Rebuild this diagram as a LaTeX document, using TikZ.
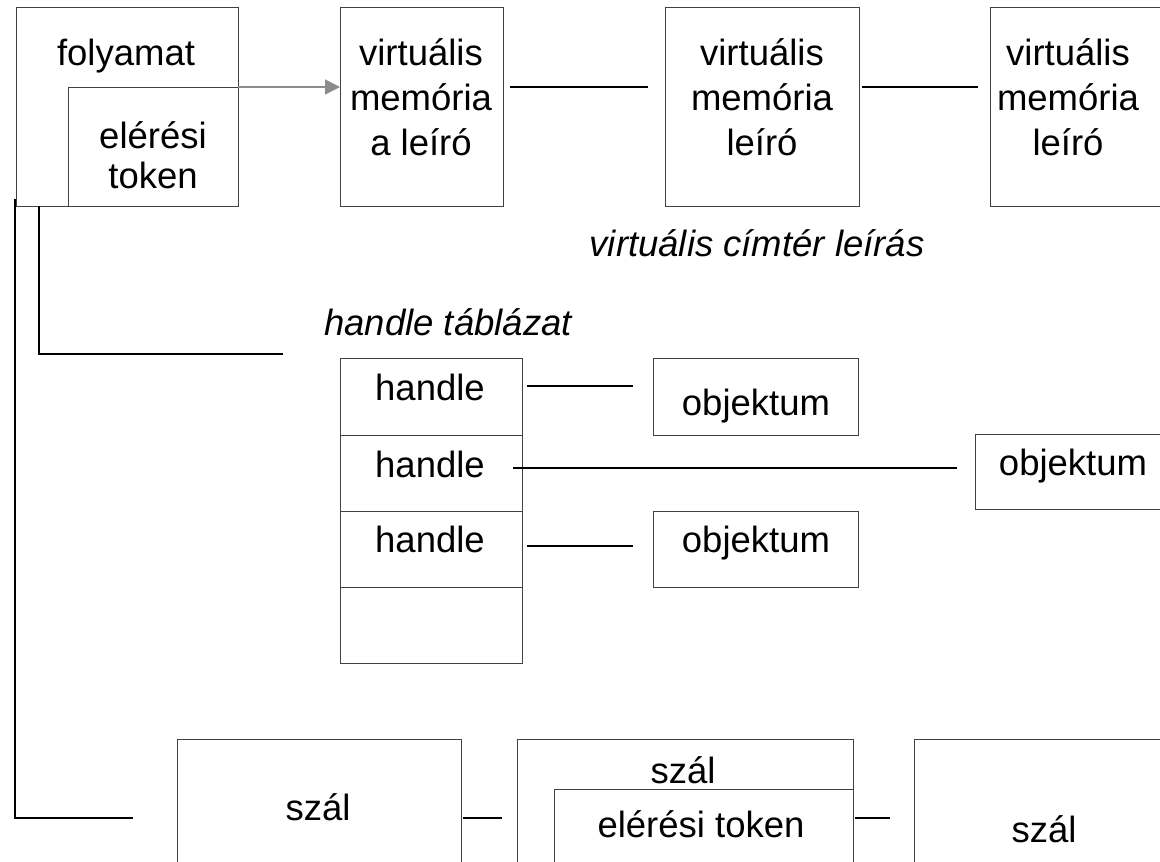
\documentclass[tikz,border=0pt]{standalone}
\usepackage{fontspec}
\setmainfont{Liberation Sans}
\usetikzlibrary{calc,arrows.meta}
\definecolor{boxline}{HTML}{404040}
\definecolor{arrowgray}{HTML}{8C8C8C}
\tikzset{
  box/.style={draw=boxline, line width=1pt, inner sep=0pt, outer sep=0pt, fill=white},
  lbl/.style={inner sep=0pt, outer sep=0pt, anchor=base, font=\fontsize{36.5}{45}\selectfont},
  ilbl/.style={lbl, font=\fontsize{36.5}{45}\selectfont\itshape},
  conn/.style={draw=black, line width=1.6pt},
  garrow/.style={draw=arrowgray, line width=1.6pt, -{Triangle[length=15pt,width=15pt]}}
}
\begin{document}
\begin{tikzpicture}[x=1pt,y=-1pt]
\useasboundingbox (0,0) rectangle (1160,862);
\clip (0,0) rectangle (1160,862);
% process box
\node[box, minimum width=222, minimum height=199] (proc) at (127,106.5) {};
\node[box, minimum width=170, minimum height=119] (ptok) at (153,146.5) {};
\node[lbl] (tproc) at (126,65) {folyamat};
\node[lbl] (tptok1) at (153,148) {elérési};
\node[lbl] (tptok2) at (153,188) {token};
% virtual memory descriptors
\node[box, minimum width=163, minimum height=199] (vm1) at (421.5,106.5) {};
\node[box, minimum width=194, minimum height=199] (vm2) at (762,106.5) {};
\node[box, minimum width=190, minimum height=199] (vm3) at (1085,106.5) {};
\node[lbl] (tvm1a) at (421,65) {virtuális};
\node[lbl] (tvm1b) at (421,110) {memória};
\node[lbl] (tvm1c) at (421,155) {a leíró};
\node[lbl] (tvm2a) at (762,65) {virtuális};
\node[lbl] (tvm2b) at (762,110) {memória};
\node[lbl] (tvm2c) at (762,155) {leíró};
\node[lbl] (tvm3a) at (1068,65) {virtuális};
\node[lbl] (tvm3b) at (1068,110) {memória};
\node[lbl] (tvm3c) at (1068,155) {leíró};
\node[ilbl] (tvcl) at (757,256) {virtuális címtér leírás};
% handle table
\node[ilbl] (tht) at (448,335) {handle táblázat};
\node[box, minimum width=182, minimum height=77] (h1) at (431,396.5) {};
\node[box, minimum width=182, minimum height=76] (h2) at (431,473) {};
\node[box, minimum width=182, minimum height=76] (h3) at (431,549) {};
\node[box, minimum width=182, minimum height=76] (h4) at (431,625) {};
\node[lbl] (th1) at (430,400) {handle};
\node[lbl] (th2) at (430,477) {handle};
\node[lbl] (th3) at (430,552) {handle};
% objects
\node[box, minimum width=205, minimum height=77] (o1) at (755.5,396.5) {};
\node[box, minimum width=200, minimum height=75] (o2) at (1075,471.5) {};
\node[box, minimum width=205, minimum height=76] (o3) at (755.5,549) {};
\node[lbl] (to1) at (756,415) {objektum};
\node[lbl] (to2) at (1073,475) {objektum};
\node[lbl] (to3) at (756,552) {objektum};
% threads
\node[box, minimum width=284, minimum height=141] (s1) at (319,809.5) {};
\node[box, minimum width=336, minimum height=141] (s2) at (685,809.5) {};
\node[box, minimum width=299, minimum height=91] (s2tok) at (703.5,834.5) {};
\node[box, minimum width=266, minimum height=141] (s3) at (1047,809.5) {};
\node[lbl] (ts1) at (318,820) {szál};
\node[lbl] (ts2) at (683,783) {szál};
\node[lbl] (ts2tok) at (701,837) {elérési token};
\node[lbl] (ts3) at (1044,842) {szál};
% connectors
\draw[garrow] (ptok.north east) -- (vm1.west |- ptok.north east);
\draw[conn] ($(vm1.north east)+(7,80)$) -- ($(vm2.north west)+(-17,80)$);
\draw[conn] ($(vm2.north east)+(3,80)$) -- ($(vm3.north west)+(-12,80)$);
\coordinate (tend) at ($(s1.north west)+(-44,79)$);
\coordinate (hend) at ($(h1.north west)+(-57,-4)$);
\draw[conn] ($(proc.south west)+(-1,-7)$) |- (tend);
\draw[conn] ($(proc.south west)+(23,0)$) |- (hend);
\draw[conn] ($(h1.north east)+(5,28)$) -- ($(o1.north west)+(-20,28)$);
\draw[conn] ($(h2.north east)+(-9,33)$) -- ($(o2.north west)+(-18,34)$);
\draw[conn] ($(h3.north east)+(5,35)$) -- ($(o3.north west)+(-20,35)$);
\draw[conn] ($(s1.north east)+(2,79)$) -- ($(s2.north west)+(-15,79)$);
\draw[conn] ($(s2.north east)+(2,79)$) -- ($(s3.north west)+(-24,79)$);
\end{tikzpicture}
\end{document}
